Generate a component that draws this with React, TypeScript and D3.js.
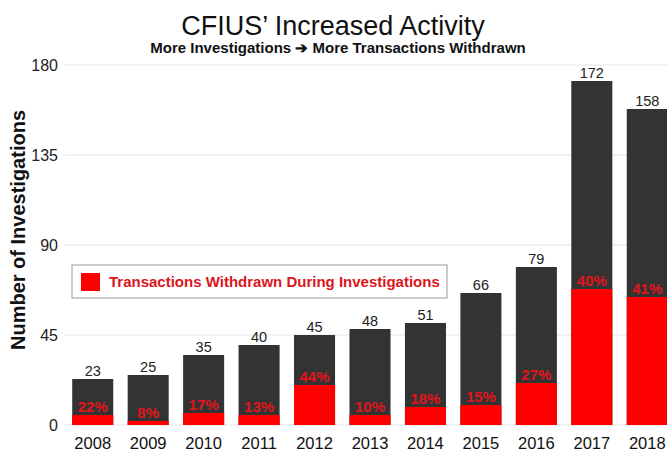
import React from 'react';
import * as d3 from 'd3';

const years = ['2008', '2009', '2010', '2011', '2012', '2013', '2014', '2015', '2016', '2017', '2018'];
const investigations = [23, 25, 35, 40, 45, 48, 51, 66, 79, 172, 158];
const withdrawn = [5, 2, 6, 5, 20, 5, 9, 10, 21, 68, 64];
const withdrawnPct = ['22%', '8%', '17%', '13%', '44%', '10%', '18%', '15%', '27%', '40%', '41%'];
const yTicks = [0, 45, 90, 135, 180];

const W = 667;
const H = 453;
const FONT = '"Liberation Sans", Arial, Helvetica, sans-serif';

const App: React.FC = () => {
  const x = d3.scaleBand().domain(years).range([65, 675]).paddingInner(0.26).paddingOuter(0.13);
  const y = d3.scaleLinear().domain([0, 180]).range([425, 65]);
  const bw = x.bandwidth();

  return (
    <svg width={W} height={H} style={{ position: 'absolute', left: 0, top: 0, background: '#fff' }} fontFamily={FONT}>
      <text x={333} y={35} textAnchor="middle" fontSize={27} fill="#111">
        CFIUS’ Increased Activity
      </text>
      <text x={338} y={53} textAnchor="middle" fontSize={15} fontWeight="bold" fill="#111">
        More Investigations ➔ More Transactions Withdrawn
      </text>

      {yTicks.map((t) => (
        <g key={t}>
          <line x1={65} x2={W} y1={y(t)} y2={y(t)} stroke="#e4e4e4" strokeWidth={1} />
          <text x={58} y={y(t) + 6} textAnchor="end" fontSize={16} fill="#222">
            {t}
          </text>
        </g>
      ))}

      <text
        transform={`translate(25, 230) rotate(-90)`}
        textAnchor="middle"
        fontSize={20}
        fontWeight="bold"
        fill="#111"
      >
        Number of Investigations
      </text>

      {years.map((yr, i) => {
        const x0 = x(yr) as number;
        const cx = x0 + bw / 2;
        return (
          <g key={yr}>
            <rect x={x0} y={y(investigations[i])} width={bw} height={y(0) - y(investigations[i])} fill="#333333" />
            <rect x={x0} y={y(withdrawn[i])} width={bw} height={y(0) - y(withdrawn[i])} fill="#ff0000" />
            <text x={cx} y={y(investigations[i]) - 3} textAnchor="middle" fontSize={14.5} fill="#222">
              {investigations[i]}
            </text>
            <text x={cx} y={y(withdrawn[i]) - 3} textAnchor="middle" fontSize={15} fontWeight="bold" fill="#e3141c">
              {withdrawnPct[i]}
            </text>
            <text x={cx} y={449} textAnchor="middle" fontSize={16.5} fill="#111">
              {yr}
            </text>
          </g>
        );
      })}

      <rect x={72} y={265} width={375} height={33} fill="#fff" stroke="#999" strokeWidth={1} />
      <rect x={81} y={273} width={19} height={18} fill="#ff0000" />
      <text x={109} y={287} fontSize={15} fontWeight="bold" fill="#dc141c">
        Transactions Withdrawn During Investigations
      </text>
    </svg>
  );
};

export default App;
